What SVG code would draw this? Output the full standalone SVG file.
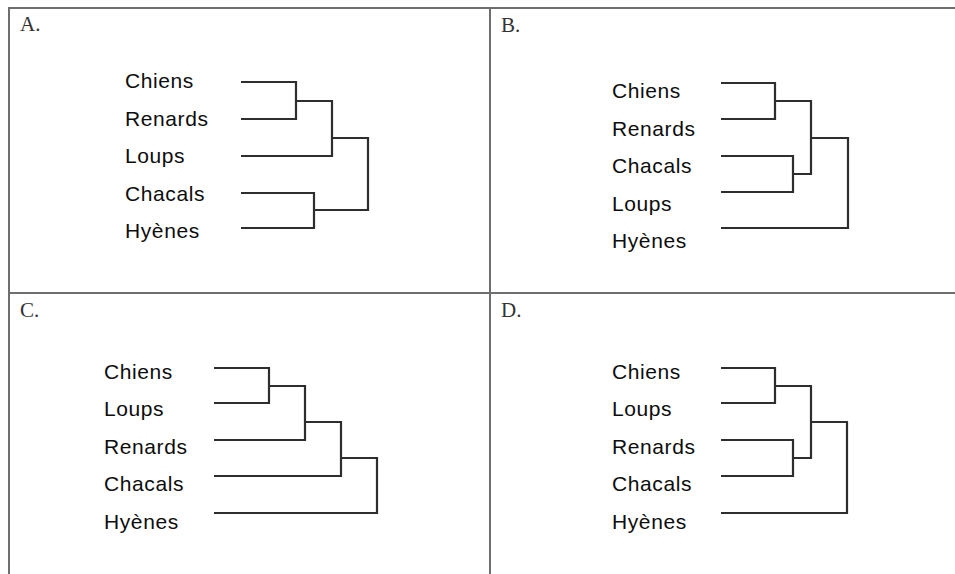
<svg xmlns="http://www.w3.org/2000/svg" width="955" height="574" viewBox="0 0 955 574">
<style>
.grid{stroke:#6e6e6e;stroke-width:2;fill:none}
.tree{stroke:#2e2e2e;stroke-width:2.2;fill:none}
.lab{font-family:"Liberation Sans",Arial,sans-serif;font-size:21px;letter-spacing:0.6px;fill:#0d0d0d}
.pl{font-family:"Liberation Serif","Times New Roman",serif;font-size:21px;fill:#333}
</style>
<rect width="955" height="574" fill="#fff"/>
<g id="grid">
<path class="grid" d="M9,574 V8 H955 M490,8 V574 M9,293 H955"/>
</g>
<g id="panelA">
<text class="pl" x="20" y="31">A.</text>
<g id="A-labels" class="lab">
<text x="125" y="88">Chiens</text>
<text x="125" y="126">Renards</text>
<text x="125" y="163">Loups</text>
<text x="125" y="201">Chacals</text>
<text x="125" y="238">Hyènes</text>
</g>
</g>
<g id="panelB">
<text class="pl" x="501" y="32">B.</text>
<g class="lab">
<text x="612" y="98">Chiens</text>
<text x="612" y="136">Renards</text>
<text x="612" y="173">Chacals</text>
<text x="612" y="211">Loups</text>
<text x="612" y="248">Hyènes</text>
</g>
</g>
<g id="panelC">
<text class="pl" x="20" y="317">C.</text>
<g class="lab">
<text x="104" y="379">Chiens</text>
<text x="104" y="416">Loups</text>
<text x="104" y="454">Renards</text>
<text x="104" y="491">Chacals</text>
<text x="104" y="529">Hyènes</text>
</g>
</g>
<g id="panelD">
<text class="pl" x="501" y="317">D.</text>
<g class="lab">
<text x="612" y="379">Chiens</text>
<text x="612" y="416">Loups</text>
<text x="612" y="454">Renards</text>
<text x="612" y="491">Chacals</text>
<text x="612" y="529">Hyènes</text>
</g>
</g>
<g id="connectors">
<path class="tree" d="M241,82 H296 V119 H241 M296,101 H332 V156 H241 M241,193 H314 V228 H241 M314,210 H368 V138 H332"/>
<path class="tree" d="M721,83 H775 V119 H721 M775,101 H811 V174 H793 M721,156 H793 V192 H721 M811,138 H848 V228 H721"/>
<path class="tree" d="M214,368 H269 V403 H214 M269,386 H305 V440 H214 M305,422 H341 V476 H214 M341,458 H377 V513 H214"/>
<path class="tree" d="M721,368 H775 V403 H721 M775,386 H811 V458 H793 M721,440 H793 V476 H721 M811,422 H847 V513 H721"/>
</g>
</svg>
